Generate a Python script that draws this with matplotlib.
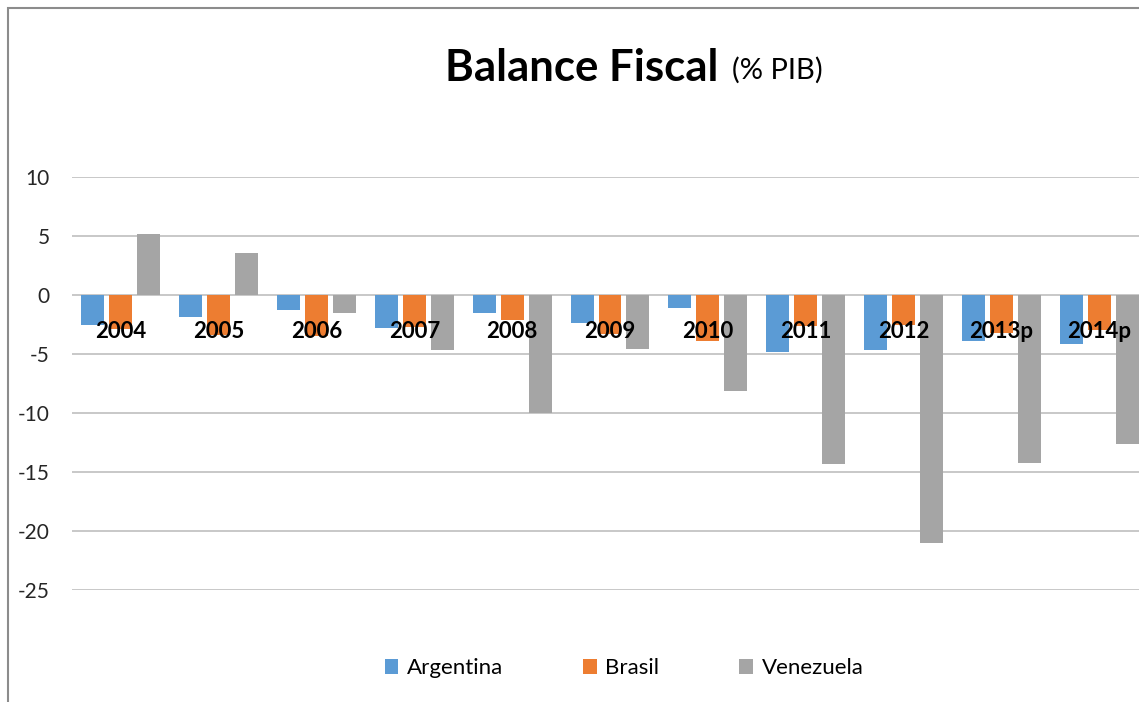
import matplotlib.pyplot as plt
import matplotlib.patches as mpatches
import numpy as np

# data
years = ['2004', '2005', '2006', '2007', '2008', '2009', '2010', '2011', '2012', '2013p', '2014p']
argentina = [-2.5, -1.9, -1.3, -2.8, -1.55, -2.35, -1.1, -4.8, -4.7, -3.9, -4.15]
brasil = [-2.9, -3.4, -3.5, -2.7, -2.1, -3.3, -3.9, -2.6, -2.5, -3.2, -3.0]
venezuela = [5.2, 3.6, -1.5, -4.7, -10.0, -4.6, -8.1, -14.3, -21.0, -14.2, -12.6]
yticks = [10, 5, 0, -5, -10, -15, -20, -25]

plt.rcParams['font.family'] = ['Lato', 'DejaVu Sans']

fig = plt.figure(figsize=(11.39, 7.02), dpi=100)
ax = fig.add_axes([72/1139, 112/702, 1076/1139, 413/702])

x = np.arange(len(years))
step = 0.286
w = 0.235
b1 = ax.bar(x - step, argentina, w, color='#5B9BD5', label='Argentina', zorder=2)
b2 = ax.bar(x, brasil, w, color='#ED7D31', label='Brasil', zorder=2)
b3 = ax.bar(x + step, venezuela, w, color='#A5A5A5', label='Venezuela', zorder=2)

ax.set_xlim(-0.5, len(years) - 0.5)
ax.set_ylim(-25, 10)
ax.set_yticks(yticks)
ax.set_yticklabels([str(v) for v in yticks], fontsize=15, color='#262626')
ax.set_xticks([])
ax.tick_params(axis='y', length=0, pad=16)
ax.grid(axis='y', color='#BFBFBF', lw=1.2, zorder=0)
for s in ax.spines.values():
    s.set_visible(False)

# category labels sit on the zero line
for i, yr in enumerate(years):
    ax.text(i, -3.1, yr, ha='center', va='center', fontsize=16,
            fontweight='bold', zorder=3)

# title
fig.text(445/1139, 0.903, 'Balance Fiscal', fontsize=31.5, fontweight='bold',
         ha='left', va='center')
fig.text(732/1139, 0.900, '(% PIB)', fontsize=21, ha='left', va='center')

fig.legend(handles=[b1, b2, b3], loc='center', bbox_to_anchor=(0.548, 0.048),
           ncol=3, frameon=False, fontsize=16, handlelength=0.6, handleheight=0.6,
           handletextpad=0.4, columnspacing=3.6)

# outer chart border
fig.patches.append(mpatches.Rectangle((8/1139, -0.1), 1.2, 1 - 8/702 + 0.1,
                                      transform=fig.transFigure, fill=False,
                                      edgecolor='#8C8C8C', lw=1.5))

fig.savefig('out.png', dpi=100)
